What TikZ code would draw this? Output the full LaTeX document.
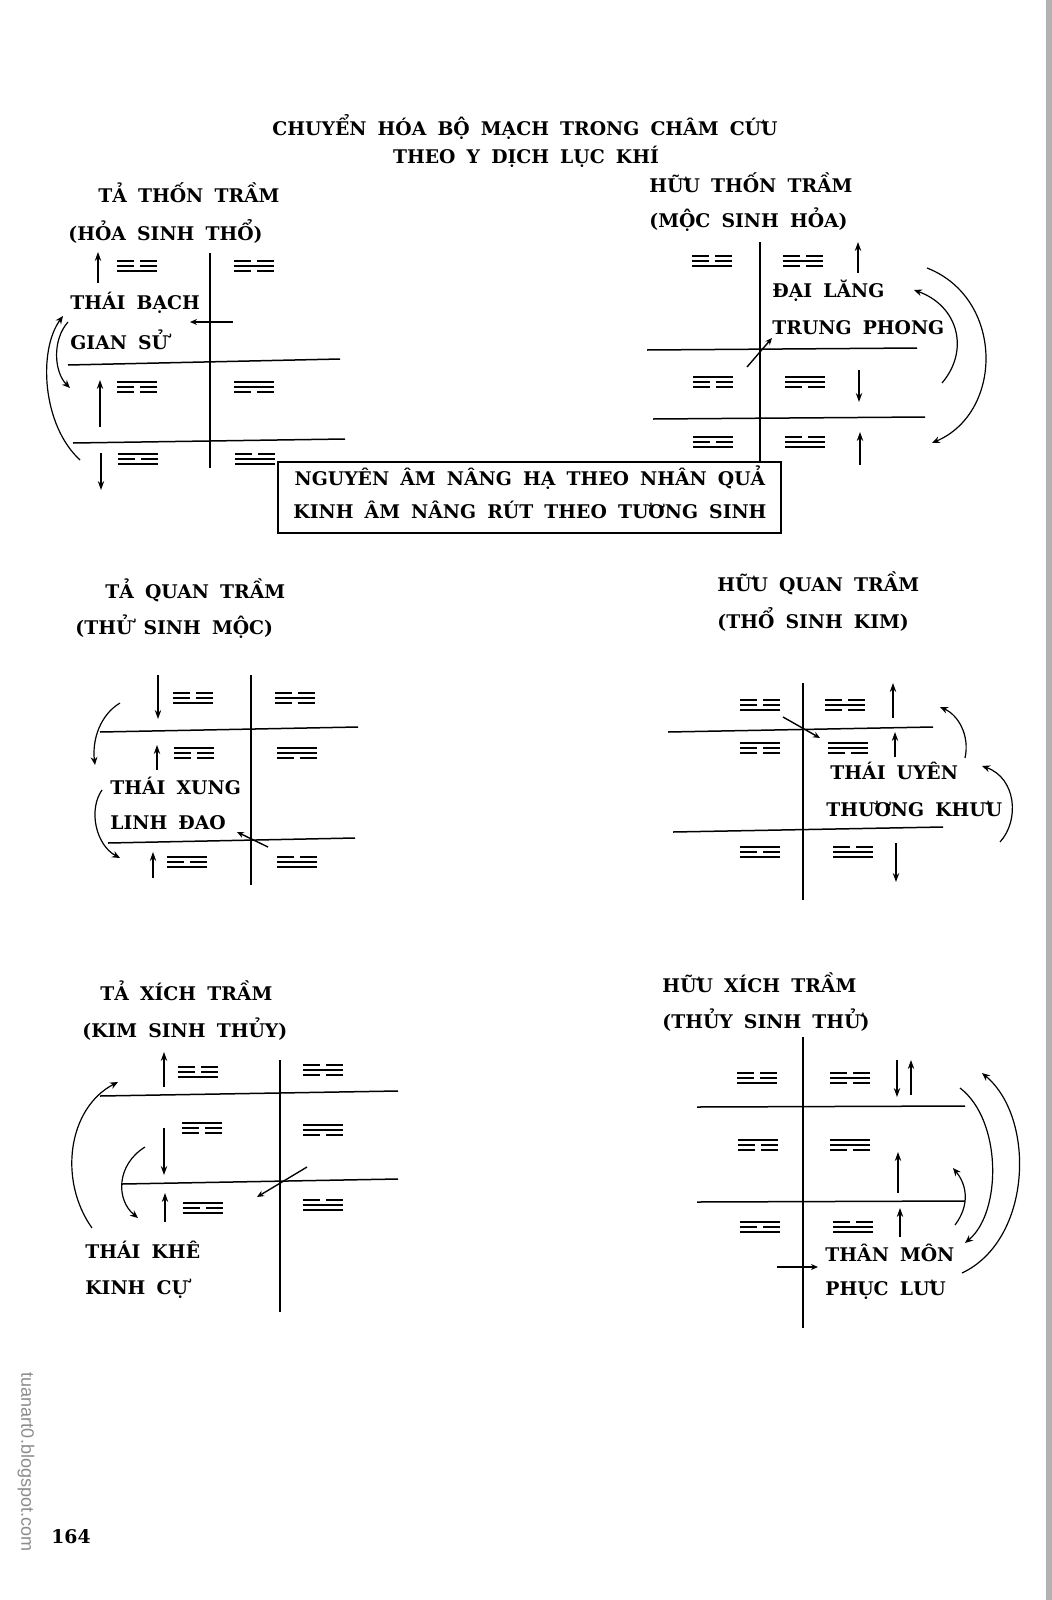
\documentclass[tikz,border=0pt]{standalone}
\usepackage{fontspec}
\setmainfont{DejaVu Serif}[WordSpace=1.7]
\newfontfamily\wmfont{Liberation Sans}
\usetikzlibrary{arrows.meta}
\newcommand\tgline[2]{%
  \ifnum#2=1 \draw[tg] (-20,#1) -- (20,#1);%
  \else \draw[tg] (-20,#1) -- (-3,#1); \draw[tg] (3,#1) -- (20,#1);\fi}
\newcommand\trigram[4]{\begin{scope}[shift={(#1)}]\tgline{-5}{#2}\tgline{0}{#3}\tgline{5}{#4}\end{scope}}
% the same six trigrams in each panel: (top-left, top-right, mid-left, mid-right, bottom-left, bottom-right)
\newcommand\sixtri[6]{%
  \trigram{#1}{0}{0}{1}\trigram{#2}{0}{1}{0}%
  \trigram{#3}{1}{0}{0}\trigram{#4}{1}{1}{0}%
  \trigram{#5}{1}{0}{1}\trigram{#6}{0}{1}{1}}
\begin{document}
\begin{tikzpicture}[x=0.5pt,y=-0.5pt,
  lbl/.style={font=\fontsize{9.4}{11}\selectfont\bfseries, inner sep=0pt, anchor=west},
  ttl/.style={font=\fontsize{9.4}{11}\selectfont\bfseries, inner sep=0pt},
  vline/.style={line width=1.1pt},
  hline/.style={line width=0.75pt},
  tg/.style={line width=1.05pt},
  va/.style={line width=0.9pt, -{Stealth[length=4.5pt,width=3.2pt]}},
  ca/.style={line width=0.6pt, -{Stealth[length=4pt,width=3.4pt]}},
  da/.style={line width=0.7pt, -{Stealth[length=3.5pt,width=3pt]}}]
\useasboundingbox (0,0) rectangle (1052,1600);
\fill[white] (0,0) rectangle (1052,1600);
\fill[black!30] (1046,0) rectangle (1052,1600);

% title
\node[ttl] (t1) at (525,127) {CHUYỂN HÓA BỘ MẠCH TRONG CHÂM CỨU};
\node[ttl] (t2) at (526,157) {THEO Y DỊCH LỤC KHÍ};

% ---------- top-left: TA THON TRAM
\node[lbl] (a1) at (98,193) {TẢ THỐN TRẦM};
\node[lbl] (a2) at (68,231) {(HỎA SINH THỔ)};
\draw[vline] (210,253) -- (210,468);
\draw[hline] (68,365) -- (340,359);
\draw[hline] (73,443) -- (345,439);
\sixtri{137,266}{254,266}{137,387}{254,387}{138,459}{255,459}
\node[lbl] (a3) at (70,303) {THÁI BẠCH};
\node[lbl] (a4) at (70,340) {GIAN SỬ};
\draw[va] (98,283) -- (98,252);
\draw[da] (233,322) -- (190,322);
\draw[va] (100,427) -- (100,380);
\draw[va] (101,453) -- (101,490);
\draw[ca] (80,460) .. controls (42,425) and (38,350) .. (63,316);
\draw[ca] (68,322) .. controls (52,340) and (54,372) .. (70,388);

% ---------- top-right: HUU THON TRAM
\node[lbl] (b1) at (649,183) {HỮU THỐN TRẦM};
\node[lbl] (b2) at (649,220) {(MỘC SINH HỎA)};
\draw[vline] (760,242) -- (760,461);
\draw[hline] (647,350) -- (917,348);
\draw[hline] (653,419) -- (925,417);
\sixtri{712,261}{803,261}{713,382}{805,382}{713,442}{805,442}
\node[lbl] (b3) at (772,291) {ĐẠI LĂNG};
\node[lbl] (b4) at (772,328) {TRUNG PHONG};
\draw[va] (858,273) -- (858,242);
\draw[da] (747,367) -- (772,338);
\draw[va] (859,370) -- (859,402);
\draw[va] (860,465) -- (860,432);
\draw[ca] (942,383) .. controls (970,350) and (958,306) .. (914,290);
\draw[ca] (927,268) .. controls (1004,298) and (1004,412) .. (932,443);

% ---------- box
\draw[line width=0.8pt] (278,462) rectangle (781,533);
\node[ttl] (m1) at (530,478) {NGUYÊN ÂM NÂNG HẠ THEO NHÂN QUẢ};
\node[ttl] (m2) at (530,510) {KINH ÂM NÂNG RÚT THEO TƯƠNG SINH};

% ---------- middle-left: TA QUAN TRAM
\node[lbl] (c1) at (105,590) {TẢ QUAN TRẦM};
\node[lbl] (c2) at (75,627) {(THỬ SINH MỘC)};
\draw[vline] (251,675) -- (251,885);
\draw[hline] (100,732) -- (358,727);
\draw[hline] (108,843) -- (355,838);
\sixtri{193,698}{295,698}{194,753}{297,753}{187,862}{297,862}
\node[lbl] (c3) at (110,786) {THÁI XUNG};
\node[lbl] (c4) at (110,823) {LINH ĐAO};
\draw[va] (158,675) -- (158,719);
\draw[va] (157,770) -- (157,745);
\draw[va] (153,878) -- (153,852);
\draw[da] (268,847) -- (237,832);
\draw[ca] (120,703) .. controls (100,715) and (92,740) .. (95,765);
\draw[ca] (102,790) .. controls (88,810) and (96,845) .. (120,858);

% ---------- middle-right: HUU QUAN TRAM
\node[lbl] (d1) at (717,583) {HỮU QUAN TRẦM};
\node[lbl] (d2) at (717,619) {(THỔ SINH KIM)};
\draw[vline] (803,683) -- (803,900);
\draw[hline] (668,732) -- (933,727);
\draw[hline] (673,832) -- (943,827);
\sixtri{760,705}{845,705}{760,748}{848,748}{760,852}{853,852}
\node[lbl] (d3) at (830,771) {THÁI UYÊN};
\node[lbl] (d4) at (826,809) {THƯƠNG KHƯU};
\draw[va] (893,718) -- (893,683);
\draw[da] (783,717) -- (820,738);
\draw[va] (895,757) -- (895,732);
\draw[va] (896,843) -- (896,882);
\draw[ca] (965,758) .. controls (970,735) and (958,715) .. (940,707);
\draw[ca] (1000,842) .. controls (1020,820) and (1016,778) .. (982,766);

% ---------- bottom-left: TA XICH TRAM
\node[lbl] (e1) at (100,991) {TẢ XÍCH TRẦM};
\node[lbl] (e2) at (82,1029) {(KIM SINH THỦY)};
\draw[vline] (280,1060) -- (280,1312);
\draw[hline] (100,1096) -- (398,1091);
\draw[hline] (122,1184) -- (398,1179);
\sixtri{198,1072}{323,1070}{202,1128}{323,1130}{203,1208}{323,1205}
\node[lbl] (e3) at (85,1250) {THÁI KHÊ};
\node[lbl] (e4) at (85,1289) {KINH CỰ};
\draw[va] (164,1087) -- (164,1052);
\draw[va] (164,1128) -- (164,1175);
\draw[va] (165,1222) -- (165,1193);
\draw[da] (307,1167) -- (257,1197);
\draw[ca] (92,1228) .. controls (58,1180) and (68,1108) .. (118,1082);
\draw[ca] (145,1147) .. controls (116,1165) and (116,1200) .. (138,1218);

% ---------- bottom-right: HUU XICH TRAM
\node[lbl] (f1) at (662,983) {HỮU XÍCH TRẦM};
\node[lbl] (f2) at (662,1020) {(THỦY SINH THỬ)};
\draw[vline] (803,1037) -- (803,1328);
\draw[hline] (697,1107) -- (965,1106);
\draw[hline] (697,1202) -- (965,1201);
\sixtri{757,1078}{850,1078}{758,1145}{850,1145}{760,1227}{853,1227}
\node[lbl] (f3) at (825,1253) {THÂN MÔN};
\node[lbl] (f4) at (825,1290) {PHỤC LƯU};
\draw[va] (897,1060) -- (897,1097);
\draw[va] (911,1095) -- (911,1060);
\draw[va] (898,1193) -- (898,1152);
\draw[va] (900,1237) -- (900,1208);
\draw[da] (777,1267) -- (818,1267);
\draw[ca] (955,1225) .. controls (970,1205) and (967,1185) .. (953,1168);
\draw[ca] (960,1088) .. controls (1002,1120) and (1002,1212) .. (965,1243);
\draw[ca] (962,1273) .. controls (1032,1240) and (1036,1118) .. (982,1073);

% page number and watermark
\node[font=\fontsize{9.4}{10}\selectfont\bfseries, inner sep=0pt] (pg) at (71,1537) {164};
\node[font=\wmfont\fontsize{9}{10}\selectfont, text=black!45, rotate=-90, inner sep=0pt] (wm) at (26,1462) {tuanart0.blogspot.com};
\end{tikzpicture}
\end{document}
